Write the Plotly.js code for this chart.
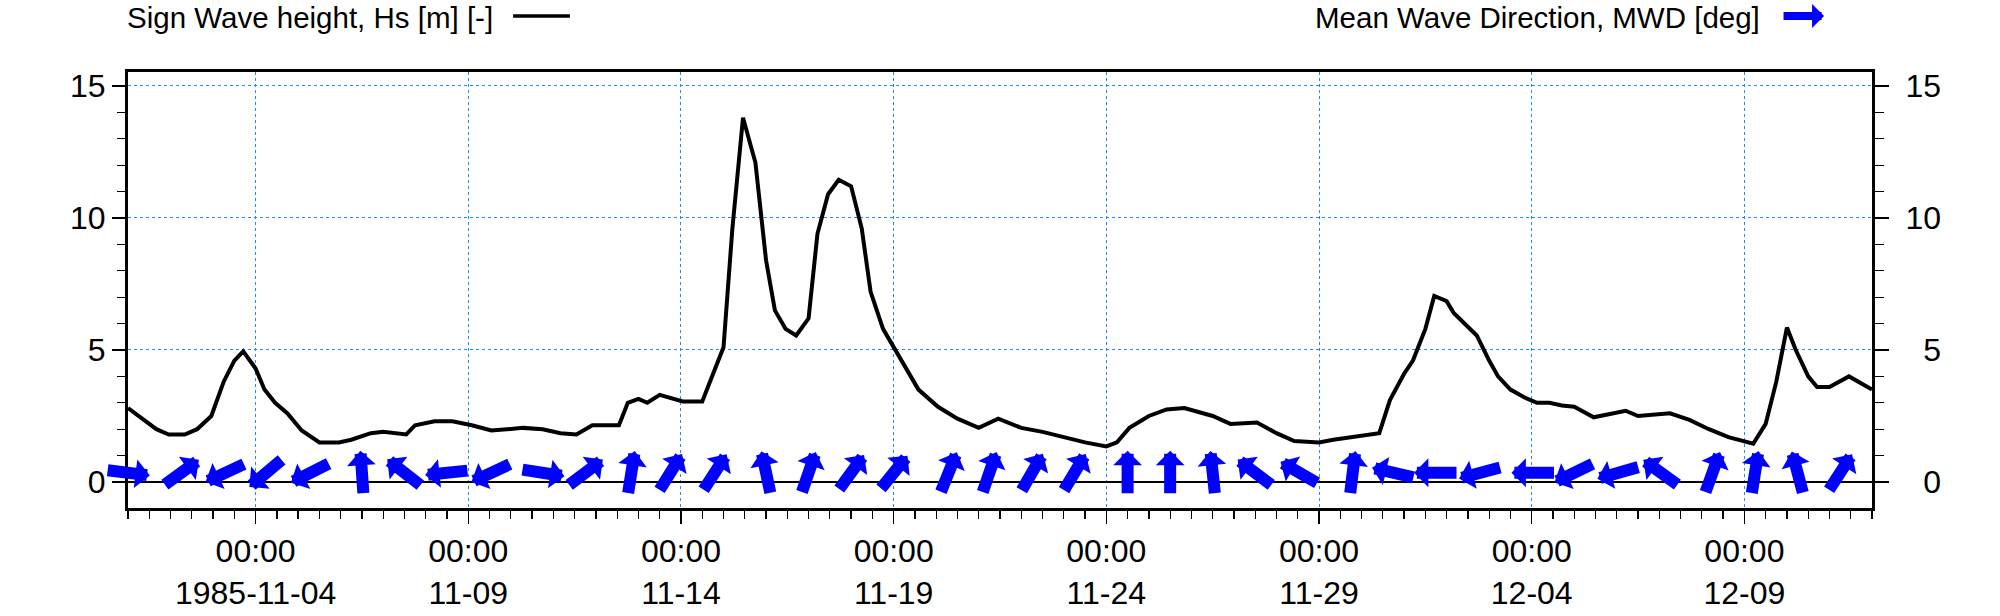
<!DOCTYPE html>
<html>
<head>
<meta charset="utf-8">
<script src="https://cdn.plot.ly/plotly-3.0.1.min.js"></script>
<style>html,body{margin:0;padding:0;background:#fff;}#chart{width:2000px;height:616px;}</style>
</head>
<body>
<div id="chart"></div>
<script>
// ---------- data ----------
const hsTime = [
'1985-11-01 00:00','1985-11-01 08:00','1985-11-01 16:00','1985-11-01 23:00','1985-11-02 08:00','1985-11-02 15:00','1985-11-02 23:00',
'1985-11-03 06:00','1985-11-03 12:00','1985-11-03 17:00','1985-11-04 00:00','1985-11-04 05:00','1985-11-04 11:00','1985-11-04 18:00',
'1985-11-05 02:00','1985-11-05 12:00','1985-11-05 23:00','1985-11-06 06:00','1985-11-06 17:00','1985-11-07 00:00','1985-11-07 13:00',
'1985-11-07 18:00','1985-11-08 05:00','1985-11-08 15:00','1985-11-09 02:00','1985-11-09 13:00','1985-11-10 00:00','1985-11-10 07:00',
'1985-11-10 18:00','1985-11-11 04:00','1985-11-11 13:00','1985-11-11 22:00','1985-11-12 13:00','1985-11-12 18:00','1985-11-13 00:00',
'1985-11-13 05:00','1985-11-13 12:00','1985-11-13 18:00','1985-11-14 01:00','1985-11-14 12:00','1985-11-14 17:00','1985-11-15 00:00',
'1985-11-15 05:00','1985-11-15 11:00','1985-11-15 18:00','1985-11-16 00:00','1985-11-16 05:00','1985-11-16 11:00','1985-11-16 17:00',
'1985-11-17 00:00','1985-11-17 05:00','1985-11-17 11:00','1985-11-17 17:00','1985-11-18 00:00','1985-11-18 06:00','1985-11-18 11:00',
'1985-11-18 18:00','1985-11-19 00:00','1985-11-19 07:00','1985-11-19 14:00','1985-11-20 01:00','1985-11-20 12:00','1985-11-21 00:00',
'1985-11-21 11:00','1985-11-22 00:00','1985-11-22 12:00','1985-11-23 00:00','1985-11-23 12:00','1985-11-24 00:00','1985-11-24 06:00',
'1985-11-24 13:00','1985-11-25 00:00','1985-11-25 10:00','1985-11-25 20:00','1985-11-26 12:00','1985-11-26 22:00','1985-11-27 13:00',
'1985-11-28 00:00','1985-11-28 10:00','1985-11-29 00:00','1985-11-29 08:00','1985-11-29 22:00','1985-11-30 10:00','1985-11-30 16:00',
'1985-12-01 00:00','1985-12-01 05:00','1985-12-01 12:00','1985-12-01 17:00','1985-12-02 00:00','1985-12-02 04:00','1985-12-02 17:00',
'1985-12-03 00:00','1985-12-03 05:00','1985-12-03 12:00','1985-12-03 20:00','1985-12-04 03:00','1985-12-04 10:00','1985-12-04 17:00',
'1985-12-05 00:00','1985-12-05 11:00','1985-12-06 05:00','1985-12-06 12:00','1985-12-07 06:00','1985-12-07 17:00','1985-12-08 04:00',
'1985-12-08 15:00','1985-12-09 05:00','1985-12-09 12:00','1985-12-09 18:00','1985-12-10 00:00','1985-12-10 05:00','1985-12-10 12:00',
'1985-12-10 17:00','1985-12-11 00:00','1985-12-11 11:00','1985-12-12 00:00'
];
const hsValue = [
2.8,2.4,2.0,1.8,1.8,2.0,2.5,
3.8,4.6,4.95,4.3,3.5,3.0,2.6,
1.95,1.5,1.5,1.6,1.85,1.9,1.8,
2.15,2.3,2.3,2.15,1.95,2.0,2.05,
2.0,1.85,1.8,2.15,2.15,3.0,3.15,
3.0,3.3,3.2,3.05,3.05,3.9,5.1,
9.6,13.8,12.1,8.4,6.5,5.8,5.55,
6.2,9.4,10.9,11.45,11.2,9.6,7.2,
5.8,5.1,4.3,3.5,2.85,2.4,2.05,
2.4,2.05,1.9,1.7,1.5,1.35,1.5,
2.05,2.5,2.75,2.8,2.5,2.2,2.25,
1.85,1.55,1.5,1.6,1.75,1.85,3.1,
4.1,4.6,5.8,7.05,6.85,6.4,5.55,
4.6,4.0,3.5,3.2,3.0,3.0,2.9,
2.85,2.45,2.7,2.5,2.6,2.35,2.0,
1.7,1.45,2.2,3.8,5.85,5.0,4.0,
3.6,3.6,4.0,3.5
];
const mwdTime = [
'1985-11-01 00:00','1985-11-02 06:00','1985-11-03 07:00','1985-11-04 06:00','1985-11-05 07:00','1985-11-06 12:00','1985-11-07 12:00',
'1985-11-08 12:00','1985-11-09 13:00','1985-11-10 18:00','1985-11-11 18:00','1985-11-12 20:00','1985-11-13 18:00','1985-11-14 19:00',
'1985-11-16 00:00','1985-11-17 00:00','1985-11-18 00:00','1985-11-19 00:00','1985-11-20 07:00','1985-11-21 06:00','1985-11-22 06:00',
'1985-11-23 06:00','1985-11-24 12:00','1985-11-25 12:00','1985-11-26 12:00','1985-11-27 12:00','1985-11-28 13:00','1985-11-29 19:00',
'1985-11-30 18:00','1985-12-01 18:00','1985-12-02 19:00','1985-12-04 01:00','1985-12-05 00:00','1985-12-06 01:00','1985-12-07 01:00',
'1985-12-08 06:00','1985-12-09 06:00','1985-12-10 06:00','1985-12-11 06:00'
];
const mwdDeg = [
97,54,245,230,243,356,308,
264,245,99,53,9,32,33,
348,19,36,39,22,19,30,
31,0,0,354,307,300,7,
283,270,255,270,244,254,306,
20,9,345,33
];
const xTickDates = ['1985-11-04','1985-11-09','1985-11-14','1985-11-19','1985-11-24','1985-11-29','1985-12-04','1985-12-09'];
const xTickDateText = ['1985-11-04','11-09','11-14','11-19','11-24','11-29','12-04','12-09'];
const xTickTimeText = '00:00';
const yTickVals = [0,5,10,15];
const yTickText = ['0','5','10','15'];
const hsName = 'Sign Wave height, Hs [m] [-]';
const mwdName = 'Mean Wave Direction, MWD [deg]';

// ---------- styling ----------
const FONT = '"Liberation Sans", Arial, Helvetica, sans-serif';
const GRID = '#1a8cff';
const BLUE = '#0000ff';
const ARROW_Y = 0.35, ARROW_LEN = 44;

const traces = [
  {x: hsTime, y: hsValue, type:'scatter', mode:'lines', name: hsName,
   line:{color:'#000', width:4}, hoverinfo:'skip', xaxis:'x', yaxis:'y'},
  {x: hsTime, y: hsValue, type:'scatter', mode:'lines', showlegend:false,
   line:{color:'rgba(0,0,0,0)', width:0}, hoverinfo:'skip', xaxis:'x', yaxis:'y2'}
];

const annotations = [];
mwdTime.forEach((t, i) => {
  const th = mwdDeg[i] * Math.PI / 180;
  const sx = Math.sin(th), cy = Math.cos(th);
  annotations.push({
    x: t, y: ARROW_Y, xref:'x', yref:'y', text:'', showarrow:true,
    arrowhead:1, arrowsize:0.4, arrowwidth:12, arrowcolor:BLUE, standoff:0,
    axref:'pixel', ayref:'pixel', ax: -ARROW_LEN*sx, ay: ARROW_LEN*cy,
    xshift: ARROW_LEN/2*sx, yshift: ARROW_LEN/2*cy
  });
});
// legend texts
annotations.push({xref:'paper', yref:'paper', x:-0.0015, y:1.126, xanchor:'left', yanchor:'middle',
  text: hsName, showarrow:false, font:{family:FONT, size:29.5, color:'#000'}});
annotations.push({xref:'paper', yref:'paper', x:0.6795, y:1.126, xanchor:'left', yanchor:'middle',
  text: mwdName, showarrow:false, font:{family:FONT, size:29.5, color:'#000'}});
// legend arrow
annotations.push({xref:'paper', yref:'paper', x:0.9725, y:1.1284, text:'', showarrow:true,
  arrowhead:1, arrowsize:0.5, arrowwidth:8, arrowcolor:BLUE, standoff:0, ax:-42, ay:0});

const shapes = [
  {type:'line', xref:'paper', yref:'paper', x0:0.2208, x1:0.2534, y0:1.1284, y1:1.1284,
   line:{color:'#000', width:3.5}}
];

const tickFont = {family:FONT, size:32, color:'#000'};
const layout = {
  width:2000, height:616,
  margin:{l:128, r:128, t:72, b:108, pad:0},
  paper_bgcolor:'#fff', plot_bgcolor:'#fff',
  showlegend:false,
  font:{family:FONT, size:32, color:'#000'},
  xaxis:{
    type:'date', range:['1985-11-01 00:00','1985-12-12 00:00'],
    tickmode:'array', tickvals:xTickDates,
    ticktext: xTickDateText.map(d => xTickTimeText + '<br>' + d),
    ticks:'outside', ticklen:13, tickwidth:1.3, tickcolor:'#000', tickfont:tickFont,
    showline:true, linewidth:3, linecolor:'#000', mirror:true,
    showgrid:true, gridcolor:GRID, gridwidth:1, griddash:'dot', zeroline:false,
    minor:{tickmode:'linear', tick0:'1985-11-01', dtick:43200000, ticks:'outside', ticklen:8,
           tickwidth:1.3, tickcolor:'#000', showgrid:false},
    fixedrange:true
  },
  yaxis:{
    range:[-0.985, 15.53], tickmode:'array', tickvals:yTickVals, ticktext:yTickText,
    ticks:'outside', ticklen:13, tickwidth:1.3, tickcolor:'#000', tickfont:tickFont,
    showline:true, linewidth:3, linecolor:'#000',
    showgrid:true, gridcolor:GRID, gridwidth:1, griddash:'dot',
    zeroline:true, zerolinecolor:'#000', zerolinewidth:1.5,
    minor:{tickmode:'linear', tick0:0, dtick:1, ticks:'outside', ticklen:8, tickwidth:1.3,
           tickcolor:'#000', showgrid:false},
    fixedrange:true
  },
  yaxis2:{
    overlaying:'y', side:'right', range:[-0.985, 15.53],
    tickmode:'array', tickvals:yTickVals, ticktext:yTickText.map(s => s.padStart(2, '\u2007')),
    ticks:'outside', ticklen:14, tickwidth:1.3, tickcolor:'#000', tickfont:tickFont,
    ticklabelstandoff:10,
    showline:true, linewidth:3, linecolor:'#000',
    showgrid:false, zeroline:false,
    minor:{tickmode:'linear', tick0:0, dtick:1, ticks:'outside', ticklen:9, tickwidth:1.3,
           tickcolor:'#000', showgrid:false},
    fixedrange:true
  },
  annotations: annotations,
  shapes: shapes
};

Plotly.newPlot('chart', traces, layout, {displayModeBar:false, staticPlot:true});
</script>
</body>
</html>
